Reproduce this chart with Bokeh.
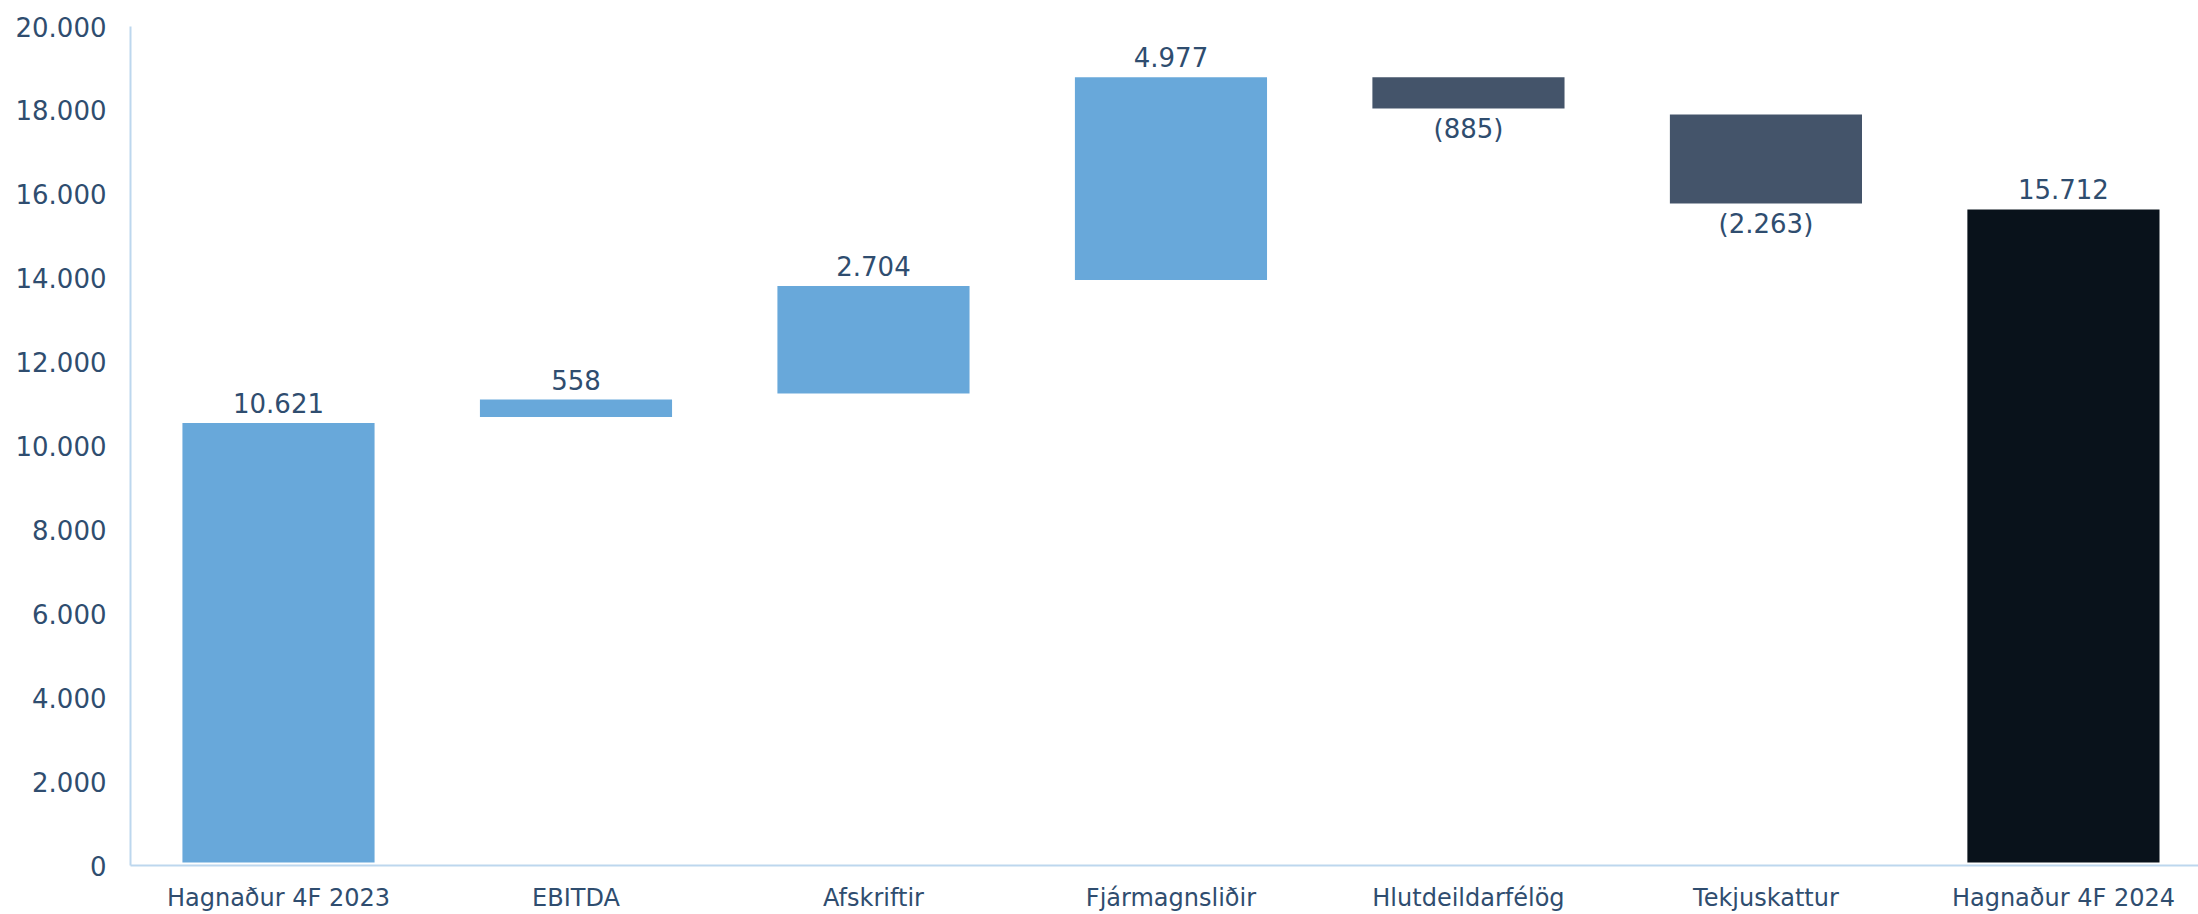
from bokeh.plotting import figure
from bokeh.models import ColumnDataSource, LabelSet, Range1d, FixedTicker
from bokeh.core.properties import value
from bokeh.embed import file_html
from bokeh.resources import INLINE

categories = ["Hagnaður 4F 2023", "EBITDA", "Afskriftir", "Fjármagnsliðir",
              "Hlutdeildarfélög", "Tekjuskattur", "Hagnaður 4F 2024"]
values = [10621, 558, 2704, 4977, -885, -2263, 15712]
kinds = ["total", "step", "step", "step", "step", "step", "total"]
y_ticks = [0, 2000, 4000, 6000, 8000, 10000, 12000, 14000, 16000, 18000, 20000]

COL_UP = "#68A8DA"
COL_DOWN = "#44546A"
COL_TOTAL = "#09121B"
TXT = "#2F4D6F"
AXIS = "#BDD7EE"

def fmt(v):
    s = f"{abs(v):,}".replace(",", ".")
    return f"({s})" if v < 0 else s

bottoms, tops, colors = [], [], []
running = 0
for v, k in zip(values, kinds):
    if k == "total":
        b, t = 0, v
        running = v
        colors.append(COL_UP if len(colors) == 0 else COL_TOTAL)
    else:
        b, t = (running, running + v) if v >= 0 else (running + v, running)
        running += v
        colors.append(COL_UP if v >= 0 else COL_DOWN)
    bottoms.append(b)
    tops.append(t)

xs = list(range(len(categories)))
src = ColumnDataSource(dict(x=xs, bottom=bottoms, top=tops, color=colors))

above = [i for i, v in enumerate(values) if v >= 0]
below = [i for i, v in enumerate(values) if v < 0]
src_above = ColumnDataSource(dict(x=[xs[i] for i in above], y=[tops[i] for i in above],
                                  t=[fmt(values[i]) for i in above]))
src_below = ColumnDataSource(dict(x=[xs[i] for i in below], y=[bottoms[i] for i in below],
                                  t=[fmt(values[i]) for i in below]))

p = figure(width=2198, height=914, output_backend="svg", toolbar_location=None,
           x_range=Range1d(-0.4975, 6.454), y_range=Range1d(0, 20000),
           min_border_left=130, min_border_right=0, min_border_top=26, min_border_bottom=47)
p.outline_line_color = None
p.xgrid.grid_line_color = None
p.ygrid.grid_line_color = None

p.vbar(x="x", bottom="bottom", top="top", width=0.666, fill_color="color",
       line_color="white", line_width=6, source=src)

common = dict(text_font=value("DejaVu Sans"), text_font_size=value("26px"), text_color=TXT,
              text_align="center", text_baseline="alphabetic")
p.add_layout(LabelSet(x="x", y="y", text="t", y_offset=7, source=src_above, **common))
p.add_layout(LabelSet(x="x", y="y", text="t", y_offset=-27, source=src_below, **common))

p.xaxis.ticker = FixedTicker(ticks=xs)
p.xaxis.major_label_overrides = {i: c for i, c in zip(xs, categories)}
p.xaxis.major_label_text_font = "DejaVu Sans"
p.xaxis.major_label_text_font_size = "24px"
p.xaxis.major_label_text_color = TXT
p.xaxis.major_label_standoff = 12
p.xaxis.major_tick_line_color = None
p.xaxis.minor_tick_line_color = None
p.xaxis.axis_line_color = AXIS
p.xaxis.axis_line_width = 2

p.yaxis.ticker = FixedTicker(ticks=y_ticks)
p.yaxis.major_label_overrides = {t: fmt(t) for t in y_ticks}
p.yaxis.major_label_text_font = "DejaVu Sans"
p.yaxis.major_label_text_font_size = "26px"
p.yaxis.major_label_text_color = TXT
p.yaxis.major_label_standoff = 18
p.yaxis.major_tick_line_color = None
p.yaxis.minor_tick_line_color = None
p.yaxis.axis_line_color = AXIS
p.yaxis.axis_line_width = 2

open("out.html", "w").write(file_html(p, INLINE))
